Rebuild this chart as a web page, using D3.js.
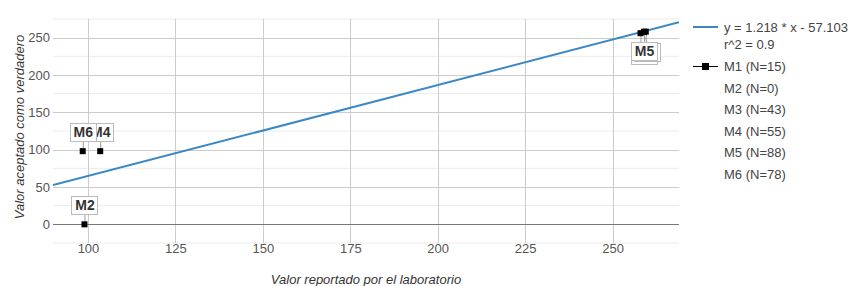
<!DOCTYPE html>
<html>
<head>
<meta charset="utf-8">
<script src="https://cdn.jsdelivr.net/npm/d3@7"></script>
<style>
  body { margin: 0; background: #fff; }
  svg { display: block; font-family: "Liberation Sans", Arial, sans-serif; }
</style>
</head>
<body>
<div id="chart"></div>
<script>
// Data
const seriesNames = ["M1", "M2", "M3", "M4", "M5", "M6"];
const seriesCounts = [15, 0, 43, 55, 88, 78];
const reported = [258, 99, 259.5, 103.5, 259, 98.5];
const accepted = [256, 0, 258, 98, 258, 98];
const xTicks = [100, 125, 150, 175, 200, 225, 250];
const yTicks = [0, 50, 100, 150, 200, 250];
const yMinorTicks = [-25, 25, 75, 125, 175, 225, 275];
const trendSlope = 1.218;
const trendIntercept = -57.103;
const rSquared = 0.9;

const width = 853, height = 286;
const plot = { left: 53, right: 679, top: 19, bottom: 243 };

const x = d3.scaleLinear().domain([90, 269]).range([plot.left, plot.right]);
const y = d3.scaleLinear().domain([-25, 275]).range([plot.bottom, plot.top]);

const svg = d3.select("#chart").append("svg")
  .attr("width", width)
  .attr("height", height);

// Minor horizontal gridlines
svg.append("g").selectAll("line")
  .data(yMinorTicks)
  .enter().append("line")
  .attr("x1", plot.left).attr("x2", plot.right)
  .attr("y1", d => y(d)).attr("y2", d => y(d))
  .attr("stroke", "#ebebeb");

// Major gridlines
svg.append("g").selectAll("line")
  .data(yTicks.filter(d => d !== 0))
  .enter().append("line")
  .attr("x1", plot.left).attr("x2", plot.right)
  .attr("y1", d => Math.round(y(d)) + 0.5).attr("y2", d => Math.round(y(d)) + 0.5)
  .attr("stroke", "#cccccc");

svg.append("g").selectAll("line")
  .data(xTicks)
  .enter().append("line")
  .attr("x1", d => Math.round(x(d)) + 0.5).attr("x2", d => Math.round(x(d)) + 0.5)
  .attr("y1", plot.top).attr("y2", plot.bottom)
  .attr("stroke", "#cccccc");

// Baseline at zero
svg.append("line")
  .attr("x1", plot.left).attr("x2", plot.right)
  .attr("y1", Math.round(y(0)) + 0.5).attr("y2", Math.round(y(0)) + 0.5)
  .attr("stroke", "#777");

// Axes (labels only)
const xAxis = svg.append("g")
  .attr("transform", "translate(0," + (plot.bottom + 1) + ")")
  .call(d3.axisBottom(x).tickValues(xTicks).tickSize(0).tickPadding(0));
const yAxis = svg.append("g")
  .attr("transform", "translate(" + (plot.left - 3) + ",0)")
  .call(d3.axisLeft(y).tickValues(yTicks).tickSize(0).tickPadding(0));
[xAxis, yAxis].forEach(g => {
  g.select(".domain").remove();
  g.selectAll("text")
    .attr("fill", "#555")
    .style("font-size", "13px")
    .style("font-family", "Liberation Sans, Arial, sans-serif");
});

// Axis titles
svg.append("text")
  .attr("x", (plot.left + plot.right) / 2)
  .attr("y", 284)
  .attr("text-anchor", "middle")
  .attr("fill", "#333")
  .style("font-size", "13px")
  .style("font-style", "italic")
  .text("Valor reportado por el laboratorio");

svg.append("text")
  .attr("transform", "translate(24," + 127 + ") rotate(-90)")
  .attr("text-anchor", "middle")
  .attr("fill", "#333")
  .style("font-size", "13px")
  .style("font-style", "italic")
  .text("Valor aceptado como verdadero");

// Trendline
svg.append("clipPath").attr("id", "plotclip")
  .append("rect")
  .attr("x", plot.left).attr("y", plot.top)
  .attr("width", plot.right - plot.left).attr("height", plot.bottom - plot.top);

const trendLine = d3.line()
  .x(d => x(d))
  .y(d => y(trendSlope * d + trendIntercept));
svg.append("path")
  .datum(x.domain())
  .attr("d", trendLine)
  .attr("fill", "none")
  .attr("stroke", "#3a88c5")
  .attr("stroke-width", 2)
  .attr("clip-path", "url(#plotclip)");

// Points
const points = seriesNames.map((name, i) => ({
  name: name, x: reported[i], y: accepted[i]
}));

// Annotation labels: below the point when near the top, otherwise above
const labelOrder = [0, 2, 1, 3, 4, 5];
const ann = svg.append("g");
labelOrder.forEach(i => {
  const p = points[i];
  const px = x(p.x), py = y(p.y);
  const below = p.y > 220;
  const boxW = 26, boxH = 18;
  let shift = 0;
  if (below && p.name !== "M5") shift = p.name === "M1" ? 3 : 1.5;
  const by = below ? py + 10 + shift : py - 10 - boxH;
  const bx = px - boxW / 2 + shift;
  ann.append("line")
    .attr("x1", px + 0.5).attr("x2", px + 0.5)
    .attr("y1", py).attr("y2", below ? by : by + boxH)
    .attr("stroke", "#999");
  ann.append("rect")
    .attr("x", Math.round(bx) + 0.5).attr("y", Math.round(by) + 0.5)
    .attr("width", boxW).attr("height", boxH)
    .attr("fill", "#fff")
    .attr("stroke", "#bbb");
  ann.append("text")
    .attr("x", bx + boxW / 2 + 0.5)
    .attr("y", by + boxH - 4)
    .attr("text-anchor", "middle")
    .attr("fill", "#333")
    .style("font-size", "14px")
    .style("font-weight", "bold")
    .text(p.name);
});

svg.append("g").selectAll("rect")
  .data(points)
  .enter().append("rect")
  .attr("x", d => x(d.x) - 3)
  .attr("y", d => y(d.y) - 3)
  .attr("width", 6).attr("height", 6)
  .attr("fill", "#000");

// Legend
const legend = svg.append("g").attr("transform", "translate(693,0)");
legend.append("line")
  .attr("x1", 0).attr("x2", 25).attr("y1", 27).attr("y2", 27)
  .attr("stroke", "#3a88c5").attr("stroke-width", 2);
legend.append("text")
  .attr("x", 31).attr("y", 32)
  .attr("fill", "#444").style("font-size", "13px")
  .text("y = " + trendSlope + " * x - " + Math.abs(trendIntercept));
legend.append("text")
  .attr("x", 31).attr("y", 49)
  .attr("fill", "#444").style("font-size", "13px")
  .text("r^2 = " + rSquared);

const legendY = d3.scalePoint().domain(seriesNames).range([66, 174]);
legend.append("line")
  .attr("x1", 0).attr("x2", 25)
  .attr("y1", legendY("M1") + 0.5).attr("y2", legendY("M1") + 0.5)
  .attr("stroke", "#000");
legend.append("rect")
  .attr("x", 9).attr("y", legendY("M1") - 3)
  .attr("width", 7).attr("height", 7)
  .attr("fill", "#000");
legend.selectAll(".entry")
  .data(seriesNames)
  .enter().append("text")
  .attr("class", "entry")
  .attr("x", 31)
  .attr("y", d => legendY(d) + 5)
  .attr("fill", "#444").style("font-size", "13px")
  .text((d, i) => d + " (N=" + seriesCounts[i] + ")");
</script>
</body>
</html>
